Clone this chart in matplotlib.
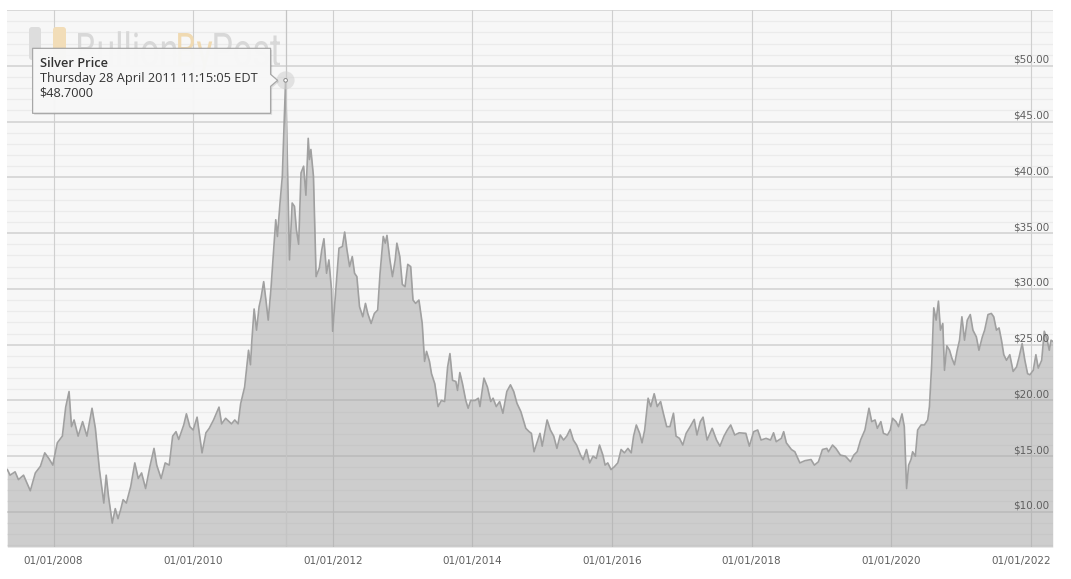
import numpy as np
import matplotlib
matplotlib.use("Agg")
import matplotlib.pyplot as plt
from matplotlib.transforms import IdentityTransform, Affine2D, offset_copy
from matplotlib.patches import Polygon, Circle, FancyBboxPatch, PathPatch
from matplotlib.textpath import TextPath
from matplotlib.font_manager import FontProperties

# ---------------- data ----------------
years = [
    2007.338, 2007.377, 2007.449, 2007.497, 2007.570, 2007.667, 2007.739, 2007.812, 2007.874, 2007.932,
    2007.990, 2008.004, 2008.054, 2008.126, 2008.174, 2008.222, 2008.257, 2008.294, 2008.352, 2008.416,
    2008.478, 2008.551, 2008.599, 2008.657, 2008.720, 2008.754, 2008.787, 2008.841, 2008.884, 2008.923,
    2008.961, 2008.996, 2009.043, 2009.106, 2009.164, 2009.213, 2009.261, 2009.319, 2009.381, 2009.439,
    2009.478, 2009.541, 2009.599, 2009.657, 2009.706, 2009.754, 2009.793, 2009.865, 2009.903, 2009.952,
    2010.000, 2010.056, 2010.127, 2010.183, 2010.230, 2010.292, 2010.370, 2010.408, 2010.465, 2010.549,
    2010.596, 2010.644, 2010.680, 2010.737, 2010.793, 2010.821, 2010.841, 2010.873, 2010.908, 2010.944,
    2010.972, 2011.010, 2011.042, 2011.075, 2011.113, 2011.151, 2011.183, 2011.207, 2011.244, 2011.277,
    2011.324, 2011.348, 2011.380, 2011.418, 2011.451, 2011.479, 2011.511, 2011.545, 2011.582, 2011.615,
    2011.648, 2011.666, 2011.686, 2011.723, 2011.761, 2011.808, 2011.842, 2011.873, 2011.911, 2011.944,
    2011.982, 2011.998, 2012.043, 2012.089, 2012.138, 2012.170, 2012.203, 2012.241, 2012.279, 2012.312,
    2012.345, 2012.383, 2012.430, 2012.468, 2012.501, 2012.549, 2012.596, 2012.643, 2012.677, 2012.723,
    2012.752, 2012.776, 2012.818, 2012.855, 2012.894, 2012.918, 2012.960, 2012.996, 2013.035, 2013.074,
    2013.116, 2013.149, 2013.187, 2013.234, 2013.281, 2013.315, 2013.343, 2013.385, 2013.414, 2013.461,
    2013.508, 2013.556, 2013.603, 2013.645, 2013.678, 2013.716, 2013.763, 2013.787, 2013.820, 2013.858,
    2013.905, 2013.939, 2013.976, 2014.038, 2014.085, 2014.108, 2014.165, 2014.215, 2014.263, 2014.296,
    2014.342, 2014.390, 2014.437, 2014.493, 2014.545, 2014.592, 2014.638, 2014.694, 2014.765, 2014.813,
    2014.845, 2014.883, 2014.930, 2014.968, 2015.000, 2015.070, 2015.117, 2015.165, 2015.211, 2015.258,
    2015.306, 2015.352, 2015.399, 2015.446, 2015.493, 2015.549, 2015.587, 2015.634, 2015.680, 2015.728,
    2015.775, 2015.821, 2015.869, 2015.901, 2015.939, 2015.986, 2016.033, 2016.083, 2016.130, 2016.178,
    2016.228, 2016.275, 2016.309, 2016.348, 2016.396, 2016.430, 2016.468, 2016.517, 2016.555, 2016.604,
    2016.648, 2016.696, 2016.735, 2016.783, 2016.830, 2016.880, 2016.917, 2016.967, 2017.014, 2017.062,
    2017.120, 2017.178, 2017.217, 2017.265, 2017.304, 2017.362, 2017.435, 2017.497, 2017.546, 2017.604,
    2017.652, 2017.700, 2017.758, 2017.822, 2017.917, 2017.967, 2018.029, 2018.087, 2018.135, 2018.207,
    2018.271, 2018.314, 2018.352, 2018.425, 2018.459, 2018.497, 2018.570, 2018.619, 2018.691, 2018.764,
    2018.851, 2018.899, 2018.957, 2019.014, 2019.077, 2019.101, 2019.159, 2019.207, 2019.271, 2019.343,
    2019.416, 2019.464, 2019.512, 2019.561, 2019.623, 2019.681, 2019.720, 2019.768, 2019.801, 2019.851,
    2019.888, 2019.946, 2019.986, 2020.019, 2020.068, 2020.105, 2020.154, 2020.187, 2020.220, 2020.249,
    2020.283, 2020.306, 2020.345, 2020.378, 2020.427, 2020.475, 2020.522, 2020.547, 2020.580, 2020.609,
    2020.643, 2020.676, 2020.705, 2020.738, 2020.763, 2020.796, 2020.835, 2020.868, 2020.906, 2020.945,
    2020.978, 2021.012, 2021.050, 2021.089, 2021.132, 2021.170, 2021.219, 2021.256, 2021.305, 2021.338,
    2021.386, 2021.434, 2021.468, 2021.507, 2021.544, 2021.579, 2021.612, 2021.651, 2021.698, 2021.746,
    2021.795, 2021.832, 2021.875, 2021.914, 2021.953, 2021.986, 2022.034, 2022.072, 2022.106, 2022.155,
    2022.192, 2022.227, 2022.264, 2022.289, 2022.313,
]
prices = [
    13.8, 13.3, 13.6, 12.9, 13.3, 11.9, 13.5, 14.1, 15.3, 14.8,
    14.2, 14.7, 16.2, 16.8, 19.4, 20.8, 17.65, 18.25, 16.8, 18.1,
    16.8, 19.3, 17.5, 13.8, 10.8, 13.3, 11.4, 9.0, 10.3, 9.4,
    10.2, 11.1, 10.8, 12.3, 14.4, 13.0, 13.5, 12.1, 14.1, 15.7,
    14.2, 13.0, 14.4, 14.2, 16.8, 17.2, 16.5, 17.8, 18.8, 17.65,
    17.35, 18.5, 15.3, 17.1, 17.5, 18.25, 19.4, 17.9, 18.4, 17.9,
    18.25, 17.9, 19.7, 21.2, 24.5, 23.2, 25.4, 28.2, 26.3, 28.4,
    29.2, 30.65, 29.0, 27.2, 29.9, 33.3, 36.2, 34.7, 37.7, 40.1,
    48.7, 41.6, 32.6, 37.7, 37.4, 35.3, 34.0, 40.4, 41.0, 38.4,
    43.5, 41.6, 42.5, 40.1, 31.1, 31.9, 33.5, 34.5, 31.4, 32.6,
    29.9, 26.2, 29.9, 33.65, 33.8, 35.1, 33.5, 32.0, 32.9, 31.4,
    31.1, 28.4, 27.5, 28.7, 27.8, 26.9, 27.8, 28.1, 31.4, 34.7,
    34.1, 34.8, 32.6, 31.1, 32.6, 34.1, 32.9, 30.4, 30.2, 32.2,
    32.0, 29.0, 28.7, 29.0, 26.9, 23.5, 24.4, 23.5, 22.4, 21.5,
    19.45, 20.0, 19.9, 23.0, 24.2, 21.8, 21.7, 20.9, 22.5, 21.5,
    20.0, 19.3, 20.0, 20.0, 20.2, 19.45, 22.0, 21.2, 19.9, 20.2,
    19.45, 19.9, 18.85, 20.8, 21.4, 20.8, 19.75, 19.0, 17.5, 17.2,
    17.05, 15.4, 16.3, 17.05, 15.9, 18.25, 17.35, 16.8, 15.7, 16.9,
    16.45, 16.8, 17.4, 16.45, 16.0, 15.1, 14.7, 15.6, 14.4, 15.0,
    14.8, 16.0, 15.1, 14.2, 14.4, 13.8, 14.05, 14.4, 15.6, 15.3,
    15.7, 15.3, 16.8, 17.8, 17.05, 16.2, 17.35, 20.2, 19.45, 20.6,
    19.45, 19.9, 18.85, 17.65, 17.65, 18.85, 16.8, 16.6, 16.0, 17.05,
    17.65, 18.3, 16.9, 18.1, 18.5, 16.45, 17.5, 16.45, 15.9, 16.8,
    17.35, 17.8, 16.9, 17.1, 17.05, 15.9, 17.2, 17.35, 16.45, 16.6,
    16.45, 17.1, 16.3, 16.6, 17.2, 16.2, 15.6, 15.4, 14.4, 14.6,
    14.7, 14.2, 14.5, 15.6, 15.7, 15.4, 16.0, 15.7, 15.1, 15.0,
    14.5, 15.1, 15.4, 16.45, 17.35, 19.3, 18.1, 18.25, 17.5, 18.1,
    17.05, 16.9, 17.35, 18.4, 18.1, 17.65, 18.8, 17.65, 12.1, 14.2,
    14.7, 15.4, 15.0, 17.35, 17.8, 17.8, 18.25, 19.45, 23.3, 28.3,
    27.2, 28.9, 26.3, 26.9, 22.7, 24.9, 24.5, 23.8, 23.2, 24.5,
    25.4, 27.5, 25.4, 27.2, 27.7, 26.3, 25.7, 24.5, 25.7, 26.3,
    27.7, 27.8, 27.5, 26.3, 26.5, 25.4, 24.1, 23.6, 24.1, 22.6,
    23.0, 23.9, 25.1, 23.6, 22.4, 22.3, 22.7, 24.1, 22.9, 23.6,
    26.2, 25.6, 24.5, 25.4, 25.3,
]
x_tick_years = [2008, 2010, 2012, 2014, 2016, 2018, 2020, 2022]
x_tick_labels = ["01/01/2008", "01/01/2010", "01/01/2012", "01/01/2014",
                 "01/01/2016", "01/01/2018", "01/01/2020", "01/01/2022"]
y_ticks = [10, 15, 20, 25, 30, 35, 40, 45, 50]
y_tick_labels = ["$10.00", "$15.00", "$20.00", "$25.00", "$30.00",
                 "$35.00", "$40.00", "$45.00", "$50.00"]
tooltip_title = "Silver Price"
tooltip_date = "Thursday 28 April 2011 11:15:05 EDT"
tooltip_value = "$48.7000"
watermark_parts = ["Bullion", "By", "Post"]

# ---------------- figure ----------------
W, H = 1071, 579
fig = plt.figure(figsize=(W / 100, H / 100), dpi=100)
fig.patch.set_facecolor("white")
ax = fig.add_axes([7 / W, 1 - 547 / H, (1053 - 7) / W, (547 - 9.5) / H])
ax.set_facecolor("#f7f7f7")
XMIN, XMAX = 2007.333, 2022.317
YMIN, YMAX = 6.86, 55.05
ax.set_xlim(XMIN, XMAX)
ax.set_ylim(YMIN, YMAX)
for s in ax.spines.values():
    s.set_visible(False)
ax.set_xticks([])
ax.set_yticks([])

# grid: minor every $1, major every $5
for v in range(7, 56):
    if v % 5 == 0:
        ax.axhline(v, color="#d6d6d6", lw=1.3, zorder=0.6)
    else:
        ax.axhline(v, color="#ebebeb", lw=0.9, zorder=0.5)
for yr in x_tick_years:
    ax.axvline(yr, color="#cfcfcf", lw=0.8, zorder=0.7)

# ---------------- watermark ----------------
fp = FontProperties(family="Roboto", weight="normal")
paths = [TextPath((0, 0), t, size=100, prop=fp) for t in watermark_parts]
exts = [p.get_extents() for p in paths]
gap = 6
total = sum(e.width for e in exts) + gap * (len(exts) - 1)
cap = TextPath((0, 0), "B", size=100, prop=fp).get_extents().height
sy = 33.0 / cap
sx = 202.0 / total
xcur = 78.0
base_disp_y = H - 66
wm_colors = ["#d8d8d8", "#f0dab2", "#d8d8d8"]
for p, e, c in zip(paths, exts, wm_colors):
    tr = Affine2D().translate(-e.x0, 0).scale(sx, sy).translate(xcur, base_disp_y)
    ax.add_patch(PathPatch(p, transform=tr + IdentityTransform(), facecolor=c,
                           edgecolor="none", zorder=0.8))
    xcur += e.width * sx + gap * sx
for (x0, x1, c) in [(29, 41, "#dddddd"), (53, 66, "#f2ddb8")]:
    ax.add_patch(FancyBboxPatch((x0, H - 60), x1 - x0, 33,
                                boxstyle="round,pad=0,rounding_size=3",
                                transform=IdentityTransform(), facecolor=c,
                                edgecolor="none", zorder=0.8))

# ---------------- series ----------------
ax.fill_between(years, prices, YMIN, color="#a4a4a4", alpha=0.5, lw=0, zorder=2)
ax.plot(years, prices, color="#a0a0a0", lw=1.2, zorder=3, solid_joinstyle="round")

# ---------------- axis labels ----------------
fs = 7.5
tcol = "#5f5f5f"
xt = offset_copy(ax.get_xaxis_transform(), fig=fig, x=0, y=-14, units="dots")
for yr, lab in zip(x_tick_years[:-1], x_tick_labels[:-1]):
    ax.text(yr, 0, lab, transform=xt, ha="center", va="center", fontsize=fs,
            color=tcol, clip_on=False)
xt_last = offset_copy(ax.get_xaxis_transform(), fig=fig, x=-2, y=-14, units="dots")
ax.text(XMAX, 0, x_tick_labels[-1], transform=xt_last, ha="right", va="center",
        fontsize=fs, color=tcol, clip_on=False)
yt = offset_copy(ax.get_yaxis_transform(), fig=fig, x=-4, y=3, units="dots")
for v, lab in zip(y_ticks, y_tick_labels):
    ax.text(1.0, v, lab, transform=yt, ha="right", va="baseline", fontsize=fs,
            color=tcol, zorder=5)

# ---------------- tooltip at the peak ----------------
i_peak = int(np.argmax(prices))
px, py = ax.transData.transform((years[i_peak], prices[i_peak]))
ax.axvline(years[i_peak], color="#c4c4c4", lw=0.9, zorder=4)
ax.add_patch(Circle((px, py), 9, transform=IdentityTransform(), facecolor="#d0d0d0",
                    alpha=0.55, edgecolor="none", zorder=6))
ax.add_patch(Circle((px, py), 1.8, transform=IdentityTransform(), facecolor="white",
                    edgecolor="#888888", lw=0.7, zorder=7))

def rel(dx, dy):
    return (px + dx, py - dy)

L, R, T, B, tipx = -253, -15, -32, 33, -8
outline = [rel(L, T), rel(R, T), rel(R, -6), rel(tipx, 0), rel(R, 6), rel(R, B), rel(L, B)]
shadow = [(x + 1.5, y - 1.5) for x, y in outline]
ax.add_patch(Polygon(shadow, closed=True, transform=IdentityTransform(),
                     facecolor="#000000", alpha=0.10, edgecolor="none",
                     zorder=8, clip_on=False))
ax.add_patch(Polygon(outline, closed=True, transform=IdentityTransform(),
                     facecolor="#f8f8f8", alpha=0.97, edgecolor="#a5a5a5", lw=0.9,
                     zorder=9, clip_on=False, joinstyle="round"))
tfont = ["Open Sans", "DejaVu Sans"]
tfs = 9.2
ax.text(*rel(-246, -13.3), tooltip_title, transform=IdentityTransform(), family=tfont,
        fontsize=tfs, fontweight="semibold", color="#333333", va="baseline", ha="left", zorder=10)
ax.text(*rel(-246, 2), tooltip_date, transform=IdentityTransform(), family=tfont,
        fontsize=tfs, color="#333333", va="baseline", ha="left", zorder=10)
ax.text(*rel(-246, 16.5), tooltip_value, transform=IdentityTransform(), family=tfont,
        fontsize=tfs, color="#333333", va="baseline", ha="left", zorder=10)

fig.savefig("out.png", dpi=100)
